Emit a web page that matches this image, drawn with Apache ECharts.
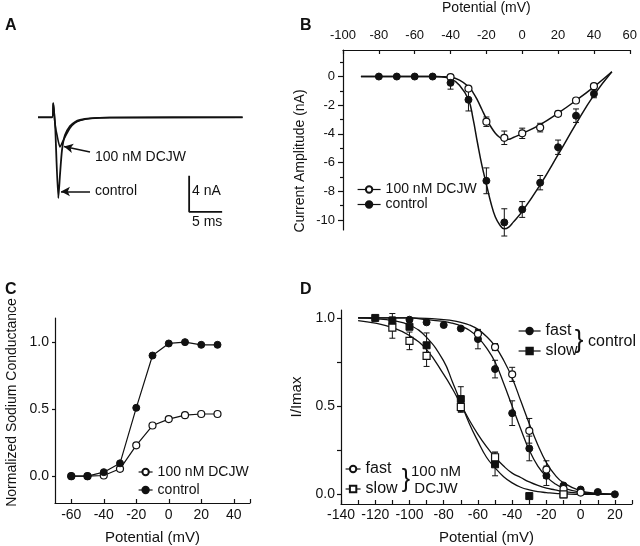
<!DOCTYPE html>
<html><head><meta charset="utf-8">
<script src="https://cdn.jsdelivr.net/npm/echarts@6/dist/echarts.min.js"></script>
<style>html,body{margin:0;padding:0;background:#fff}#c{width:640px;height:546px}</style>
</head><body><div id="c"></div><script>
// ---------- Panel A: current traces (time in ms, current in nA) ----------
const aTime = [0,2.12,2.32,2.5,2.6,3.08,3.33,3.64,4.09,4.85,5.61,6.36,7.88,10.9,31];
const aControl = [0,0,1.56,0,-0.86,-8.97,-6.41,-3.63,-1.97,-0.97,-0.52,-0.3,-0.13,-0.03,0];
const aDcjwTime = [0,2.12,2.32,2.5,2.6,2.88,3.33,3.64,4.09,4.85,5.61,6.36,7.88,10.9,31];
const aDcjw = [0,0,1.56,0,-0.86,-1.97,-3.3,-2.86,-2.19,-1.19,-0.63,-0.36,-0.13,-0.03,0];
const aBarX = [22.9,22.9,27.9];
const aBarY = [-6.5,-10.5,-10.5];
const aArrowDcjw = [[7.88,-3.86],[3.94,-3.24]];
const aArrowControl = [[7.88,-8.24],[3.48,-8.24]];

// ---------- Panel B: I-V relationship ----------
const bV = [-80,-70,-60,-50,-40,-30,-20,-10,0,10,20,30,40];
const bControl = [0,0,0,0,-0.44,-1.62,-7.27,-10.17,-9.27,-7.4,-4.93,-2.73,-1.2];
const bControlErr = [0,0,0,0,0.44,0.78,0.9,0.95,0.55,0.5,0.5,0.47,0.28];
const bDcjwV = [-40,-30,-20,-10,0,10,20,30,40];
const bDcjw = [-0.04,-0.84,-3.15,-4.27,-3.96,-3.56,-2.6,-1.67,-0.67];
const bDcjwErr = [0.08,0.12,0.33,0.47,0.36,0.3,0.18,0.12,0.1];
const bFitV = [-90,-60,-50,-45,-40,-35,-30,-27.5,-25,-22.5,-20,-17.5,-15,-12.5,-10,-7.5,-5,0,10,20,30,40,50];
const bFitControl = [0,0,0,-0.02,-0.15,-0.6,-1.6,-2.9,-4.6,-6.2,-7.5,-8.8,-9.8,-10.35,-10.62,-10.5,-10.15,-9.4,-7.55,-5.45,-3.3,-1.3,0.33];
const bFitDcjw = [0,0,0,-0.01,-0.05,-0.25,-0.7,-1.1,-1.65,-2.3,-2.95,-3.5,-3.95,-4.25,-4.4,-4.38,-4.25,-3.98,-3.35,-2.55,-1.67,-0.72,0.33];
const bXTicks = [-100,-80,-60,-40,-20,0,20,40,60];
const bYTicks = [0,-2,-4,-6,-8,-10];
const bYMinor = [1,-1,-3,-5,-7,-9];

// ---------- Panel C: normalized conductance ----------
const cV = [-60,-50,-40,-30,-20,-10,0,10,20,30];
const cControl = [0,0,0.03,0.096,0.51,0.9,0.99,1.0,0.98,0.98];
const cDcjw = [0,0,0.005,0.055,0.23,0.378,0.426,0.455,0.464,0.464];
const cXLabels = [-60,-40,-20,0,20,40];
const cXTicks = [-60,-40,-20,0,20,40,50];
const cYTicks = [0,0.5,1.0];

// ---------- Panel D: steady-state inactivation ----------
const dCtlFastV = [-100,-90,-80,-70,-60,-50,-40,-30,-20,-10,0,10,20];
const dCtlFast = [0.99,0.975,0.96,0.94,0.88,0.71,0.46,0.26,0.105,0.05,0.027,0.013,0.0];
const dCtlFastErr = [0,0,0,0,0.055,0.05,0.07,0.07,0.055,0,0,0,0];
const dCtlSlowV = [-120,-110,-100,-90,-70,-50,-30,-10];
const dCtlSlow = [1.0,0.985,0.95,0.845,0.54,0.17,-0.01,0.0];
const dCtlSlowErr = [0,0.04,0,0.07,0.07,0.065,0,0];
const dDcjwFastV = [-60,-50,-40,-30,-20,-10,0];
const dDcjwFast = [0.91,0.835,0.68,0.36,0.14,0.03,0.01];
const dDcjwFastErr = [0.02,0.02,0.04,0.07,0.05,0,0];
const dDcjwSlowV = [-110,-100,-90,-70,-50,-10];
const dDcjwSlow = [0.945,0.87,0.785,0.495,0.21,0.0];
const dDcjwSlowErr = [0.06,0.05,0.06,0.03,0.03,0];
const dFitV = [-130,-120,-110,-100,-90,-80,-75,-70,-65,-60,-55,-50,-45,-40,-35,-30,-25,-20,-15,-10,0,10,20];
const dFitDcjwFast = [1,1,1,1,0.998,0.99,0.985,0.975,0.96,0.935,0.895,0.84,0.76,0.66,0.53,0.4,0.28,0.18,0.11,0.065,0.02,0.006,0.0];
const dFitCtlFast = [1,1,1,1,0.99,0.98,0.97,0.955,0.93,0.89,0.83,0.75,0.63,0.5,0.37,0.25,0.16,0.1,0.06,0.035,0.012,0.004,0.0];
const dFitCtlSlow = [1,0.995,0.985,0.96,0.89,0.755,0.64,0.52,0.4,0.3,0.21,0.15,0.1,0.065,0.04,0.025,0.015,0.01,0.005,0.003,0,0,0];
const dFitDcjwSlow = [0.985,0.97,0.945,0.9,0.82,0.68,0.6,0.51,0.42,0.34,0.27,0.21,0.16,0.12,0.095,0.07,0.05,0.035,0.025,0.015,0.006,0.002,0.0];
const dXLabels = [-140,-120,-100,-80,-60,-40,-20,0,20];
const dXTicks = [-140,-130,-120,-110,-100,-90,-80,-70,-60,-50,-40,-30,-20,-10,0,10,20,30];
const dYLabels = [0,0.5,1.0];
const dYTicks = [0,0.25,0.5,0.75,1.0];

const F = "'Liberation Sans', Arial, Helvetica, sans-serif";
const INK = '#111';
const zip = (xs, ys) => xs.map((x, i) => [x, ys[i]]);

function errSeries(xs, ys, es, xi, yi, cap) {
  const data = [];
  xs.forEach((x, i) => { if (es[i] > 0) data.push([x, ys[i], es[i]]); });
  return {
    type: 'custom', xAxisIndex: xi, yAxisIndex: yi, data, z: 3, silent: true,
    encode: { x: 0, y: 1 },
    renderItem: (p, api) => {
      const x = api.value(0), y = api.value(1), e = api.value(2);
      const a = api.coord([x, y + e]), b = api.coord([x, y - e]);
      const st = { stroke: INK, lineWidth: 1 };
      return { type: 'group', children: [
        { type: 'line', shape: { x1: a[0], y1: a[1], x2: b[0], y2: b[1] }, style: st },
        { type: 'line', shape: { x1: a[0] - cap, y1: a[1], x2: a[0] + cap, y2: a[1] }, style: st },
        { type: 'line', shape: { x1: b[0] - cap, y1: b[1], x2: b[0] + cap, y2: b[1] }, style: st }
      ]};
    }
  };
}
function pts(name, xs, ys, xi, yi, symbol, filled, size, showLine) {
  return {
    type: 'line', name, xAxisIndex: xi, yAxisIndex: yi, data: zip(xs, ys),
    symbol, symbolSize: size, showSymbol: true, showAllSymbol: true, silent: true,
    lineStyle: { opacity: showLine ? 1 : 0, width: 1.2, color: INK },
    itemStyle: filled ? { color: INK, borderColor: INK, borderWidth: 1 } : { color: '#fff', borderColor: INK, borderWidth: 1.2 },
    z: 5
  };
}
function fit(xs, ys, xi, yi, w) {
  return { type: 'line', xAxisIndex: xi, yAxisIndex: yi, data: zip(xs, ys), symbol: 'none', smooth: 0.45,
    lineStyle: { color: INK, width: w }, silent: true, z: 2 };
}
const axLine = { onZero: false, lineStyle: { color: INK, width: 1.2 } };
const lbl = (size, extra) => Object.assign({ color: INK, fontSize: size, fontFamily: F }, extra || {});
const txt = (text, x, y, size, opts) => {
  opts = opts || {};
  return { type: 'text', x, y, silent: true, style: {
    text, font: (opts.bold ? 'bold ' : '') + size + 'px ' + F, fill: INK,
    textAlign: opts.align || 'left', align: opts.align || 'left',
    textVerticalAlign: 'middle', verticalAlign: 'middle' } };
};
const stripName = n => n.split('|')[1];

const option = {
  backgroundColor: '#fff',
  animation: false,
  grid: [
    { left: 38, top: 90.3, width: 204.6, height: 135 },
    { left: 343, top: 42, width: 288, height: 188 },
    { left: 55, top: 318, width: 195, height: 192.7 },
    { left: 341, top: 310, width: 291, height: 200 }
  ],
  xAxis: [
    { gridIndex: 0, type: 'value', min: 0, max: 31, show: false },
    { gridIndex: 1, type: 'value', position: 'top', min: -100, max: 60,
      axisLine: axLine, splitLine: { show: false },
      axisTick: { inside: true, length: 4, customValues: bXTicks, lineStyle: { color: INK, width: 1.2 } },
      axisLabel: lbl(13, { customValues: bXTicks, margin: 8 }),
      name: 'Potential (mV)', nameLocation: 'middle', nameGap: 35, nameTextStyle: lbl(14) },
    { gridIndex: 2, type: 'value', position: 'bottom', min: -70, max: 50,
      axisLine: axLine, splitLine: { show: false },
      axisTick: { inside: true, length: 4, customValues: cXTicks, lineStyle: { color: INK, width: 1.2 } },
      axisLabel: lbl(14, { customValues: cXLabels, margin: 5 }),
      name: 'Potential (mV)', nameLocation: 'middle', nameGap: 27, nameTextStyle: lbl(15) },
    { gridIndex: 3, type: 'value', position: 'bottom', min: -140, max: 30,
      axisLine: axLine, splitLine: { show: false },
      axisTick: { inside: true, length: 4, customValues: dXTicks, lineStyle: { color: INK, width: 1.2 } },
      axisLabel: lbl(14, { customValues: dXLabels, margin: 4 }),
      name: 'Potential (mV)', nameLocation: 'middle', nameGap: 26, nameTextStyle: lbl(15) }
  ],
  yAxis: [
    { gridIndex: 0, type: 'value', min: -12, max: 3, show: false },
    { gridIndex: 1, type: 'value', position: 'left', min: -10.7, max: 1.85,
      axisLine: axLine, splitLine: { show: false },
      axisTick: { length: 5, customValues: bYTicks, lineStyle: { color: INK, width: 1.2 } },
      axisLabel: lbl(13, { customValues: bYTicks, margin: 8 }),
      name: 'Current Amplitude (nA)', nameLocation: 'middle', nameRotate: 90, nameGap: 36,
      nameTextStyle: lbl(14, { padding: [0, 42, 0, 0] }) },
    { gridIndex: 1, type: 'value', position: 'left', min: -10.7, max: 1.85,
      axisLine: { show: false, onZero: false }, splitLine: { show: false },
      axisTick: { length: 3, customValues: bYMinor, lineStyle: { color: INK, width: 1.2 } },
      axisLabel: { show: false } },
    { gridIndex: 2, type: 'value', position: 'left', min: -0.2, max: 1.18,
      axisLine: axLine, splitLine: { show: false },
      axisTick: { length: 3, customValues: cYTicks, lineStyle: { color: INK, width: 1.2 } },
      axisLabel: lbl(14, { customValues: cYTicks, margin: 6, formatter: v => v.toFixed(1) }),
      name: 'Normalized Sodium Conductance', nameLocation: 'middle', nameRotate: 90, nameGap: 36,
      nameTextStyle: lbl(14, { padding: [0, 0, 0, 16] }) },
    { gridIndex: 3, type: 'value', position: 'left', min: -0.055, max: 1.045,
      axisLine: axLine, splitLine: { show: false },
      axisTick: { length: 4, customValues: dYTicks, lineStyle: { color: INK, width: 1.2 } },
      axisLabel: lbl(14, { customValues: dYLabels, margin: 6, formatter: v => v.toFixed(1) }),
      name: 'I/Imax', nameLocation: 'middle', nameRotate: 90, nameGap: 37,
      nameTextStyle: lbl(15, { padding: [0, 0, 0, 20] }) }
  ],
  legend: [
    { left: 357, top: 182, orient: 'vertical', padding: 0, itemGap: 0, itemWidth: 23, itemHeight: 8,
      selectedMode: false, data: ['B|100 nM DCJW', 'B|control'], formatter: stripName,
      textStyle: lbl(14, { lineHeight: 15 }), lineStyle: { opacity: 1, width: 1.2, color: INK } },
    { left: 138, top: 464, orient: 'vertical', padding: 0, itemGap: 2, itemWidth: 14, itemHeight: 8,
      selectedMode: false, data: ['C|100 nM DCJW', 'C|control'], formatter: stripName,
      textStyle: lbl(14, { lineHeight: 16 }), lineStyle: { opacity: 1, width: 1.2, color: INK } },
    { left: 518, top: 322, orient: 'vertical', padding: 0, itemGap: 2, itemWidth: 22, itemHeight: 8,
      selectedMode: false, data: ['D1|fast', 'D1|slow'], formatter: stripName,
      textStyle: lbl(16, { lineHeight: 18 }), lineStyle: { opacity: 1, width: 1.2, color: INK } },
    { left: 345, top: 460, orient: 'vertical', padding: 0, itemGap: 2, itemWidth: 15, itemHeight: 8,
      selectedMode: false, data: ['D2|fast', 'D2|slow'], formatter: stripName,
      textStyle: lbl(16, { lineHeight: 18 }), lineStyle: { opacity: 1, width: 1.2, color: INK } }
  ],
  graphic: [
    txt('A', 5, 26, 16, { bold: true }),
    txt('B', 300, 26, 16, { bold: true }),
    txt('C', 5, 290, 16, { bold: true }),
    txt('D', 300, 290, 16, { bold: true }),
    txt('100 nM DCJW', 95, 157, 14),
    txt('control', 95, 191, 14),
    txt('4 nA', 192, 191, 14),
    txt('5 ms', 192, 222, 14),
    txt('}', 579, 341, 26, { align: 'center' }),
    txt('control', 588, 342, 16),
    txt('}', 406, 480, 25, { align: 'center' }),
    txt('100 nM', 436, 472, 15, { align: 'center' }),
    txt('DCJW', 436, 489, 15, { align: 'center' })
  ],
  series: [
    // Panel A
    { type: 'line', xAxisIndex: 0, yAxisIndex: 0, data: zip(aDcjwTime, aDcjw), symbol: 'none', smooth: 0.2,
      lineStyle: { color: INK, width: 1.6 }, silent: true,
      markLine: { silent: true, symbol: ['none', 'arrow'], symbolSize: [7, 9], label: { show: false },
        lineStyle: { color: INK, width: 1.5, type: 'solid' },
        data: [[{ coord: aArrowDcjw[0] }, { coord: aArrowDcjw[1] }], [{ coord: aArrowControl[0] }, { coord: aArrowControl[1] }]] } },
    { type: 'line', xAxisIndex: 0, yAxisIndex: 0, data: zip(aTime, aControl), symbol: 'none', smooth: 0.2,
      lineStyle: { color: INK, width: 1.8 }, silent: true },
    { type: 'line', xAxisIndex: 0, yAxisIndex: 0, data: zip(aBarX, aBarY), symbol: 'none',
      lineStyle: { color: INK, width: 1.8 }, silent: true },
    // Panel B
    fit(bFitV, bFitControl, 1, 1, 1.5),
    fit(bFitV, bFitDcjw, 1, 1, 1.5),
    errSeries(bV, bControl, bControlErr, 1, 1, 3),
    errSeries(bDcjwV, bDcjw, bDcjwErr, 1, 1, 3),
    pts('B|100 nM DCJW', bDcjwV, bDcjw, 1, 1, 'circle', false, 7, false),
    pts('B|control', bV, bControl, 1, 1, 'circle', true, 7, false),
    // Panel C
    pts('C|100 nM DCJW', cV, cDcjw, 2, 3, 'circle', false, 7, true),
    pts('C|control', cV, cControl, 2, 3, 'circle', true, 7, true),
    // Panel D
    fit(dFitV, dFitDcjwFast, 3, 4, 1.3),
    fit(dFitV, dFitCtlFast, 3, 4, 1.3),
    fit(dFitV, dFitCtlSlow, 3, 4, 1.3),
    fit(dFitV, dFitDcjwSlow, 3, 4, 1.3),
    errSeries(dCtlFastV, dCtlFast, dCtlFastErr, 3, 4, 3),
    errSeries(dCtlSlowV, dCtlSlow, dCtlSlowErr, 3, 4, 3),
    errSeries(dDcjwFastV, dDcjwFast, dDcjwFastErr, 3, 4, 3),
    errSeries(dDcjwSlowV, dDcjwSlow, dDcjwSlowErr, 3, 4, 3),
    pts('D1|fast', dCtlFastV, dCtlFast, 3, 4, 'circle', true, 7, false),
    pts('D1|slow', dCtlSlowV, dCtlSlow, 3, 4, 'rect', true, 7, false),
    pts('D2|fast', dDcjwFastV, dDcjwFast, 3, 4, 'circle', false, 7, false),
    pts('D2|slow', dDcjwSlowV, dDcjwSlow, 3, 4, 'rect', false, 7, false)
  ]
};
const chart = echarts.init(document.getElementById('c'), null, { renderer: 'canvas' });
chart.setOption(option);
</script></body></html>
